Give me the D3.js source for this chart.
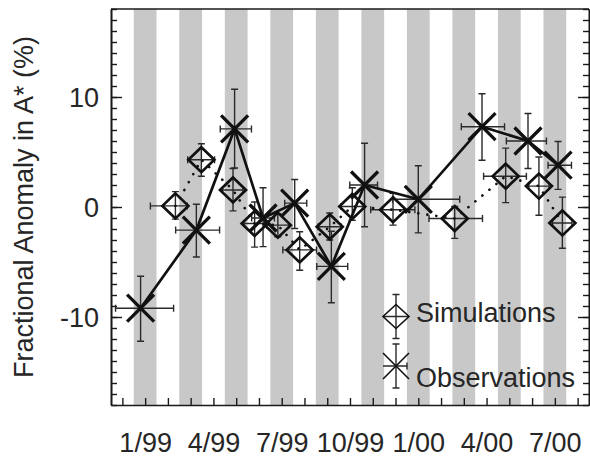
<!DOCTYPE html>
<html><head><meta charset="utf-8">
<script src="https://cdn.jsdelivr.net/npm/d3@7"></script>
<style>
html,body{margin:0;padding:0;background:#fff;}
svg{display:block;font-family:"Liberation Sans",Arial,Helvetica,sans-serif;}
</style></head>
<body><svg id="c" width="590" height="460"></svg>
<script>
// ---- data (x in months since Jan 1999, y in %) ----
const tickMonths = [0, 3, 6, 9, 12, 15, 18];
const tickLabels = ["1/99", "4/99", "7/99", "10/99", "1/00", "4/00", "7/00"];
const yLabelValues = [-10, 0, 10];

const obsX   = [-0.2, 2.25, 3.93, 5.18, 6.57, 8.18, 9.64, 12.0, 14.8, 16.82, 18.14];
const obsY   = [-9.2, -2.1, 7.1, -1.0, 0.35, -5.4, 2.0, 0.7, 7.3, 6.0, 3.8];
const obsXLo = [-1.3, 1.34, 3.3, 4.68, 6.13, 7.54, 8.99, 10.87, 13.89, 15.87, 17.7];
const obsXHi = [1.25, 3.27, 4.67, 5.68, 7.1, 8.9, 10.21, 13.82, 15.79, 17.63, 18.73];
const obsYLo = [-12.2, -4.55, 3.55, -3.6, -1.95, -8.7, -1.8, -2.35, 4.25, 3.5, 1.6];
const obsYHi = [-6.3, 0.25, 10.7, 1.75, 2.5, -2.2, 5.8, 3.75, 10.3, 8.5, 5.95];

const simX   = [1.33, 2.47, 3.86, 4.81, 5.83, 6.79, 8.11, 9.1, 10.89, 13.6, 15.84, 17.3, 18.33];
const simY   = [0.1, 4.3, 1.55, -1.5, -1.65, -3.9, -1.8, 0.05, -0.25, -1.05, 2.8, 1.9, -1.45];
const simXLo = [0.23, 1.87, 3.4, 4.35, 5.35, 6.05, 7.6, 8.6, 9.91, 12.47, 14.87, 16.85, 17.9];
const simXHi = [1.85, 3.05, 4.3, 5.25, 6.3, 7.53, 8.6, 9.6, 11.85, 14.82, 16.75, 17.75, 18.75];
const simYLo = [-1.1, 2.8, -0.35, -3.65, -2.7, -5.75, -3.0, -1.2, -1.65, -2.85, 0.4, -0.75, -3.75];
const simYHi = [1.4, 5.75, 3.5, 0.45, -0.6, -2.25, -0.55, 1.75, 1.25, 0.05, 5.35, 4.55, 0.9];

const yTitle = "Fractional Anomaly in A* (%)";
const legendLabels = ["Simulations", "Observations"];

// ---- layout ----
const L = 111, R = 589, T = 9, B = 405;
const x = d3.scaleLinear().domain([-1.5, 19.5]).range([L, R]);
const y = d3.scaleLinear().domain([-18, 18]).range([B, T]);
const ink = "#1a1a1a", txt = "#262626";
const svg = d3.select("#c");

// gray month bands (Jan, Mar, May, ...)
const bandMonths = d3.range(0, 19, 2);
svg.append("g").selectAll("rect").data(bandMonths).join("rect")
  .attr("x", d => x(d - 0.5)).attr("width", d => x(d + 0.5) - x(d - 0.5))
  .attr("y", T).attr("height", B - T).attr("fill", "#c8c8c8");

// axes
function styleAxis(g){
  g.selectAll("path.domain").attr("stroke", ink).attr("stroke-width", 1.6);
  g.selectAll(".tick line").attr("stroke", ink).attr("stroke-width", 1.4);
}
const minorY = d3.range(-18, 19);
svg.append("g").attr("transform", `translate(${L},0)`)
  .call(d3.axisLeft(y).tickValues(minorY).tickSizeInner(-6).tickSizeOuter(0).tickFormat(""))
  .call(styleAxis);
svg.append("g").attr("transform", `translate(${L},0)`)
  .call(d3.axisLeft(y).tickValues(yLabelValues).tickSizeInner(-11).tickSizeOuter(0).tickPadding(12).tickFormat(d => String(d)))
  .call(styleAxis)
  .call(g => g.selectAll("text").attr("font-size", 27).attr("fill", txt).attr("font-family", "Liberation Sans, Arial, sans-serif").attr("dy", "0.36em"));
svg.append("g").attr("transform", `translate(${R},0)`)
  .call(d3.axisLeft(y).tickValues(minorY).tickSizeInner(6).tickSizeOuter(0).tickFormat(""))
  .call(styleAxis);
svg.append("g").attr("transform", `translate(${R},0)`)
  .call(d3.axisLeft(y).tickValues(yLabelValues).tickSizeInner(11).tickSizeOuter(0).tickFormat(""))
  .call(styleAxis);
svg.append("g").attr("transform", `translate(0,${B})`)
  .call(d3.axisBottom(x).tickValues(d3.range(-1, 20)).tickSizeInner(-7).tickSizeOuter(0).tickFormat(""))
  .call(styleAxis);
svg.append("g").attr("transform", `translate(0,${B})`)
  .call(d3.axisBottom(x).tickValues(tickMonths).tickSizeInner(0).tickSizeOuter(0).tickPadding(0)
        .tickFormat((d, i) => tickLabels[i]))
  .call(g => g.select("path.domain").remove())
  .call(g => g.selectAll("text").attr("font-size", 27).attr("fill", txt).attr("font-family", "Liberation Sans, Arial, sans-serif").attr("y", 47).attr("dy", 0));
svg.append("line").attr("x1", L).attr("x2", R).attr("y1", T).attr("y2", T)
  .attr("stroke", ink).attr("stroke-width", 1.4);

// y title
svg.append("text").attr("transform", `translate(33,${y(0)}) rotate(-90)`)
  .attr("text-anchor", "middle").attr("font-size", 27).attr("fill", txt).text(yTitle);

// error bars
function errorBars(xs, ys, xlo, xhi, ylo, yhi){
  const g = svg.append("g").attr("stroke", "#2a2a2a").attr("stroke-width", 1.4).attr("fill", "none");
  xs.forEach((xv, i) => {
    const cx = x(xv), cy = y(ys[i]);
    const x0 = x(xlo[i]), x1 = x(xhi[i]), y0 = y(ylo[i]), y1 = y(yhi[i]);
    const c = 3.5;
    g.append("path").attr("d",
      `M${cx},${y0}V${y1}M${cx-c},${y0}H${cx+c}M${cx-c},${y1}H${cx+c}` +
      `M${x0},${cy}H${x1}M${x0},${cy-c}V${cy+c}M${x1},${cy-c}V${cy+c}`);
  });
}
errorBars(simX, simY, simXLo, simXHi, simYLo, simYHi);
errorBars(obsX, obsY, obsXLo, obsXHi, obsYLo, obsYHi);

// lines
const simPts = simX.map((d, i) => [d, simY[i]]);
const obsPts = obsX.map((d, i) => [d, obsY[i]]);
const lineGen = d3.line().x(d => x(d[0])).y(d => y(d[1]));
svg.append("path").attr("d", lineGen(simPts)).attr("fill", "none").attr("stroke", "#111")
  .attr("stroke-width", 2.6).attr("stroke-linecap", "round").attr("stroke-dasharray", "0.1,9");
svg.append("path").attr("d", lineGen(obsPts)).attr("fill", "none").attr("stroke", "#111")
  .attr("stroke-width", 2.7);

// markers
function diamondPath(cx, cy, w, h){ return `M${cx},${cy-h}L${cx+w},${cy}L${cx},${cy+h}L${cx-w},${cy}Z`; }
function crossPath(cx, cy, s){ return `M${cx-s},${cy-s}L${cx+s},${cy+s}M${cx-s},${cy+s}L${cx+s},${cy-s}`; }
svg.append("g").selectAll("path").data(simPts).join("path")
  .attr("d", d => diamondPath(x(d[0]), y(d[1]), 13, 12.5))
  .attr("fill", "none").attr("stroke", "#111").attr("stroke-width", 2.7).attr("stroke-linejoin", "miter");
svg.append("g").selectAll("path").data(obsPts).join("path")
  .attr("d", d => crossPath(x(d[0]), y(d[1]), 13.5))
  .attr("fill", "none").attr("stroke", "#111").attr("stroke-width", 3.3);

// legend
const lg = svg.append("g");
const lx = 396, ly1 = 316.5, ly2 = 366;
lg.append("path").attr("d", `M${lx},${ly1-22}V${ly1+22}M${lx-3.5},${ly1-22}H${lx+3.5}M${lx-3.5},${ly1+22}H${lx+3.5}M${lx-13},${ly1}H${lx+13}`)
  .attr("stroke", "#2a2a2a").attr("stroke-width", 1.4).attr("fill", "none");
lg.append("path").attr("d", diamondPath(lx, ly1, 13, 12)).attr("fill", "none").attr("stroke", "#111").attr("stroke-width", 1.6);
lg.append("path").attr("d", `M${lx},${ly2-22}V${ly2+22}M${lx-3.5},${ly2-22}H${lx+3.5}M${lx-3.5},${ly2+22}H${lx+3.5}M${lx-13},${ly2}H${lx+11}M${lx+11},${ly2-3.5}V${ly2+3.5}`)
  .attr("stroke", "#2a2a2a").attr("stroke-width", 1.4).attr("fill", "none");
lg.append("path").attr("d", crossPath(lx, ly2, 13)).attr("fill", "none").attr("stroke", "#111").attr("stroke-width", 1.6);
lg.append("text").attr("x", 416).attr("y", 322).attr("font-size", 27).attr("fill", txt).text(legendLabels[0]);
lg.append("text").attr("x", 416).attr("y", 387).attr("font-size", 27).attr("fill", txt).text(legendLabels[1]);
</script></body></html>
